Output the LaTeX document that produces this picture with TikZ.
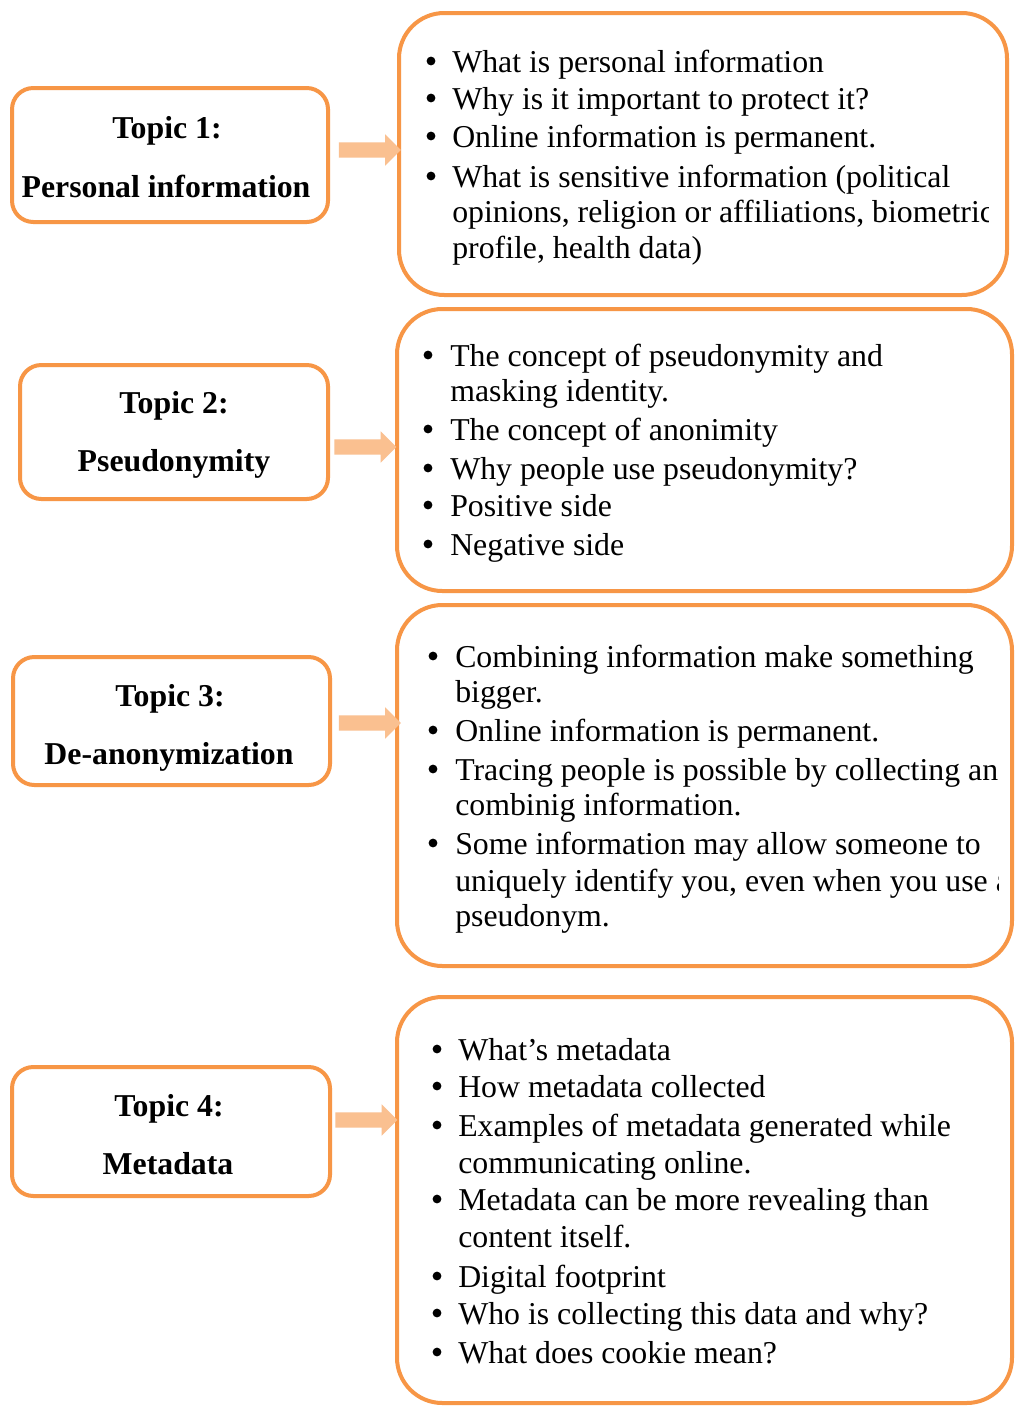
\documentclass[tikz,border=0pt]{standalone}
\usepackage{fontspec}
\setmainfont{Liberation Serif}
\usetikzlibrary{shapes.arrows}
\definecolor{boxorange}{HTML}{F79646}
\definecolor{arroworange}{HTML}{FAC090}
\tikzset{
  topicbox/.style={draw=boxorange, line width=3pt, rounded corners=16pt, inner sep=0pt},
  infobox/.style={draw=boxorange, line width=3pt, rounded corners=34pt, inner sep=0pt},
  blockarrow/.style={single arrow, fill=arroworange, draw=none, inner sep=5.6pt,
     single arrow head extend=6pt, minimum height=46.5pt},
  txt/.style={anchor=base west, inner sep=0pt, font=\fontsize{23.85pt}{28pt}\selectfont},
  bul/.style={circle, fill=black, inner sep=0pt, minimum size=6.6pt, yshift=8.25pt},
  ttl/.style={anchor=base, inner sep=0pt, font=\fontsize{23.85pt}{28pt}\selectfont\bfseries}
}
\begin{document}
\begin{tikzpicture}[x=0.75pt,y=-0.75pt]
\useasboundingbox (0,0) rectangle (1014,1406);
\fill[white] (0,0) rectangle (1014,1406);

% topic boxes
\node[topicbox, minimum width=316*0.75pt, minimum height=134*0.75pt] (L1) at (170,155) {};
\node[topicbox, minimum width=308*0.75pt, minimum height=134*0.75pt] (L2) at (174,432) {};
\node[topicbox, minimum width=317*0.75pt, minimum height=128*0.75pt] (L3) at (171.5,721) {};
\node[topicbox, minimum width=318*0.75pt, minimum height=129*0.75pt] (L4) at (171,1131.5) {};

% info boxes
\node[infobox, minimum width=608*0.75pt, minimum height=282*0.75pt] (R1) at (703,154) {};
\node[infobox, minimum width=615*0.75pt, minimum height=282*0.75pt] (R2) at (704.5,450) {};
\node[infobox, minimum width=615*0.75pt, minimum height=361*0.75pt] (R3) at (704.5,785.5) {};
\node[infobox, minimum width=615*0.75pt, minimum height=406*0.75pt] (R4) at (704.5,1200) {};

% arrows
\node[blockarrow] (A1) at (366,150) {};
\node[blockarrow] (A2) at (361.5,447) {};
\node[blockarrow] (A3) at (366,723) {};
\node[blockarrow] (A4) at (362.5,1120) {};

% topic titles
\node[ttl] (T1a) at (167,138) {Topic 1:};
\node[ttl] (T1b) at (166,197) {Personal information};
\node[ttl] (T2a) at (174,413) {Topic 2:};
\node[ttl] (T2b) at (174,471) {Pseudonymity};
\node[ttl] (T3a) at (170,706) {Topic 3:};
\node[ttl] (T3b) at (169,764) {De-anonymization};
\node[ttl] (T4a) at (169,1116) {Topic 4:};
\node[ttl] (T4b) at (168,1174) {Metadata};

% box 1 text
\begin{scope}
\clip (399,13) rectangle (988,295);
\node[bul] (b1a) at (431,72) {};
\node[txt] (l1a) at (452,72) {What is personal information};
\node[bul] (b1b) at (431,109) {};
\node[txt] (l1b) at (452,109) {Why is it important to protect it?};
\node[bul] (b1c) at (431,147) {};
\node[txt] (l1c) at (452,147) {Online information is permanent.};
\node[bul] (b1d) at (431,187) {};
\node[txt] (l1d) at (452,187) {What is sensitive information (political};
\node[txt] (l1e) at (452,222) {opinions, religion or affiliations, biometric};
\node[txt] (l1f) at (452,258) {profile, health data)};
\end{scope}

% box 2 text
\node[bul] (b2a) at (428,366) {};
\node[txt] (l2a) at (450,366) {The concept of pseudonymity and};
\node[txt] (l2b) at (450,401) {masking identity.};
\node[bul] (b2c) at (428,440) {};
\node[txt] (l2c) at (450,440) {The concept of anonimity};
\node[bul] (b2d) at (428,479) {};
\node[txt] (l2d) at (450,479) {Why people use pseudonymity?};
\node[bul] (b2e) at (428,516) {};
\node[txt] (l2e) at (450,516) {Positive side};
\node[bul] (b2f) at (428,555) {};
\node[txt] (l2f) at (450,555) {Negative side};

% box 3 text
\begin{scope}
\clip (397,605) rectangle (998,966);
\node[bul] (b3a) at (433,667) {};
\node[txt] (l3a) at (455,667) {Combining information make something};
\node[txt] (l3b) at (455,702) {bigger.};
\node[bul] (b3c) at (433,741) {};
\node[txt] (l3c) at (455,741) {Online information is permanent.};
\node[bul] (b3d) at (433,780) {};
\node[txt] (l3d) at (455,780) {Tracing people is possible by collecting and};
\node[txt] (l3e) at (455,815) {combinig information.};
\node[bul] (b3f) at (433,854) {};
\node[txt] (l3f) at (455,854) {Some information may allow someone to};
\node[txt] (l3g) at (455,891) {uniquely identify you, even when you use a};
\node[txt] (l3h) at (455,926) {pseudonym.};
\end{scope}

% box 4 text
\node[bul] (b4a) at (437,1060) {};
\node[txt] (l4a) at (458,1060) {What’s metadata};
\node[bul] (b4b) at (437,1097) {};
\node[txt] (l4b) at (458,1097) {How metadata collected};
\node[bul] (b4c) at (437,1136) {};
\node[txt] (l4c) at (458,1136) {Examples of metadata generated while};
\node[txt] (l4d) at (458,1173) {communicating online.};
\node[bul] (b4e) at (437,1210) {};
\node[txt] (l4e) at (458,1210) {Metadata can be more revealing than};
\node[txt] (l4f) at (458,1247) {content itself.};
\node[bul] (b4g) at (437,1287) {};
\node[txt] (l4g) at (458,1287) {Digital footprint};
\node[bul] (b4h) at (437,1324) {};
\node[txt] (l4h) at (458,1324) {Who is collecting this data and why?};
\node[bul] (b4i) at (437,1363) {};
\node[txt] (l4i) at (458,1363) {What does cookie mean?};
\end{tikzpicture}
\end{document}
